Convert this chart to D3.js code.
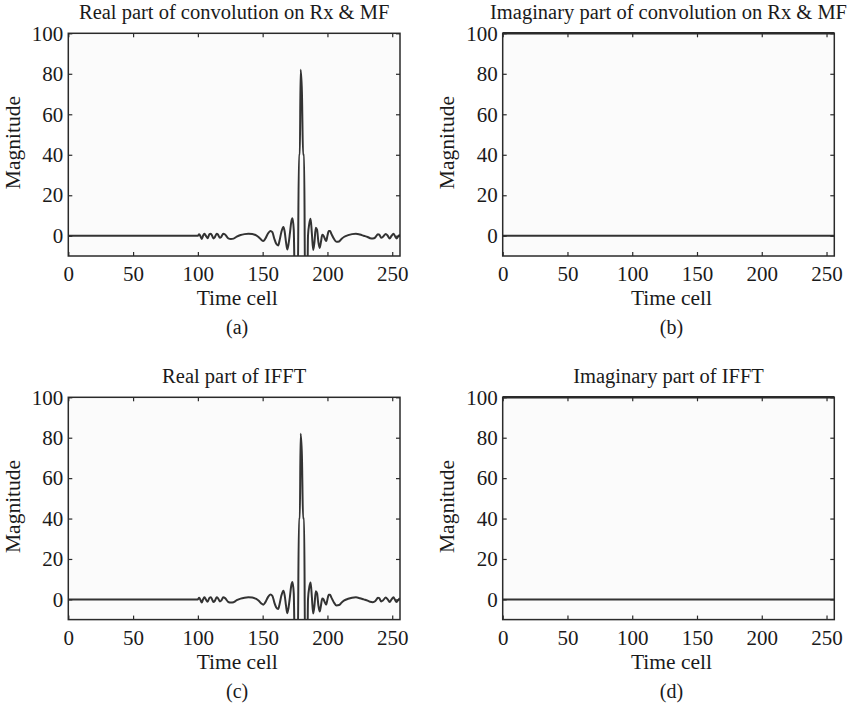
<!DOCTYPE html>
<html>
<head>
<meta charset="utf-8">
<script src="https://cdn.jsdelivr.net/npm/d3@7"></script>
<style>
  html, body { margin: 0; padding: 0; background: #ffffff; }
  svg { display: block; }
  text { font-family: "Liberation Serif", "DejaVu Serif", serif; fill: #1a1a1a; }
</style>
</head>
<body>
<svg id="chart" width="858" height="706"></svg>
<script>
// ---------------- data ----------------
const panelTitles = [
  "Real part of convolution on Rx & MF",
  "Imaginary part of convolution on Rx & MF",
  "Real part of IFFT",
  "Imaginary part of IFFT"
];
const panelLetters = ["(a)", "(b)", "(c)", "(d)"];
const xLabel = "Time cell";
const yLabel = "Magnitude";
const xTicks = [0, 50, 100, 150, 200, 250];
const yTicks = [0, 20, 40, 60, 80, 100];
const xDomain = [0, 256];
const yDomain = [-10, 100];

// real part: time cell and value
const realTime = [
  0, 100, 101, 102, 103, 104, 105, 106, 107.5, 109, 110, 111, 112, 113, 114.5, 115.5, 117, 118,
  119.6, 121, 123.5, 125.5, 127.5, 130, 133, 136, 139, 142, 145, 147, 149, 150.5, 152, 154, 156,
  157.5, 159, 160.5, 162, 163, 164.5, 166, 167, 168, 169, 170, 171, 172, 173, 174, 175, 176, 177,
  178, 178.7, 179.3, 180.3, 181.2, 182, 182.8, 183.6, 184.4, 185, 186, 187, 188, 189, 190, 191, 192, 193, 194, 195, 196,
  197, 198, 199, 200, 201, 202, 203, 205, 207, 209, 211, 213, 216, 219, 222, 225, 228, 231, 233,
  235, 237, 239, 240, 241.5, 243, 245, 246.5, 248, 249.5, 251, 252, 253.3, 255, 256
];
const realValue = [
  0, 0, 0.8, -0.3, -1.6, 0, 1, 0.2, -1.2, 0.8, 1, 0, -1.3, -0.8, 1, 0.6, -1, -0.6,
  1, 0.6, -1.3, -1.6, -1.4, -0.4, 0.4, 0.8, 1, 0.9, 0.2, -0.7, -2, -2.6, -1.5, 1, 2.4,
  1.8, -1.5, -4, -4.8, -2.5, 2, 4.3, 2, -3, -6.8, -4, 1, 6.5, 8.6, 3, -30, -14, -30,
  40, 40, 82, 71, 40, 40, -30, -14, -30, 0, 6, 8.4, 1, -7, -3, 4, 3, -3, -6, -3, 0.5,
  0, -1.5, -2.6, 0, 2.3, 2.3, 1, -1.5, -3, -2.8, -1.5, -0.5, 0.3, 0.8, 1, 0.6, 0, -0.6, -1.2,
  -1.4, -0.8, 0.8, 0.6, -1, -0.4, 0.9, 0, -1.3, 0, 1, 0, -1.3, 0, 0.5
];
// imaginary part: zero everywhere
const imagTime = [0, 256];
const imagValue = [0, 0];

const panelSeries = [
  {t: realTime, v: realValue},
  {t: imagTime, v: imagValue},
  {t: realTime, v: realValue},
  {t: imagTime, v: imagValue}
];

// ---------------- layout ----------------
const panels = [
  {left: 68.3, top: 33.3, width: 331.7, height: 222.7, boldTop: false},
  {left: 502.7, top: 33.3, width: 331.6, height: 222.7, boldTop: true},
  {left: 68.3, top: 397.3, width: 331.7, height: 222.3, boldTop: false},
  {left: 502.7, top: 397.3, width: 331.6, height: 222.3, boldTop: true}
];

const svg = d3.select("#chart");
const frameColor = "#2a2a2a";
const lineColor = "#333333";

panels.forEach((p, i) => {
  const g = svg.append("g").attr("transform", `translate(${p.left},${p.top})`);
  const x = d3.scaleLinear().domain(xDomain).range([0, p.width]);
  const y = d3.scaleLinear().domain(yDomain).range([p.height, 0]);

  g.append("rect").attr("width", p.width).attr("height", p.height)
    .attr("fill", "#fbfbfb");

  const clipId = "clip" + i;
  g.append("clipPath").attr("id", clipId)
    .append("rect").attr("width", p.width).attr("height", p.height);

  // data line
  const s = panelSeries[i];
  const pts = s.t.map((t, k) => [t, s.v[k]]);
  const line = d3.line().x(d => x(d[0])).y(d => y(d[1])).curve(d3.curveMonotoneX);
  g.append("path").datum(pts)
    .attr("clip-path", `url(#${clipId})`)
    .attr("d", line)
    .attr("fill", "none")
    .attr("stroke", lineColor)
    .attr("stroke-width", 2)
    .attr("stroke-linejoin", "round");

  // axes with inward ticks
  const styleAxis = sel => {
    sel.select(".domain").remove();
    sel.selectAll(".tick line").attr("stroke", frameColor).attr("stroke-width", 1.2);
    sel.selectAll(".tick text").attr("fill", "#1a1a1a")
      .style("font-family", '"Liberation Serif", serif').style("font-size", "21px");
  };
  g.append("g").attr("transform", `translate(0,${p.height})`)
    .call(d3.axisBottom(x).tickValues(xTicks).tickSize(-4).tickPadding(10))
    .call(styleAxis);
  g.append("g")
    .call(d3.axisLeft(y).tickValues(yTicks).tickSize(-4).tickPadding(5))
    .call(styleAxis);
  g.append("g")
    .call(d3.axisTop(x).tickValues(xTicks).tickSize(-4).tickFormat(""))
    .call(styleAxis);
  g.append("g").attr("transform", `translate(${p.width},0)`)
    .call(d3.axisRight(y).tickValues(yTicks).tickSize(-4).tickFormat(""))
    .call(styleAxis);

  // frame
  g.append("rect").attr("width", p.width).attr("height", p.height)
    .attr("fill", "none").attr("stroke", frameColor).attr("stroke-width", 1.5);
  if (p.boldTop) {
    g.append("line").attr("x1", 0).attr("x2", p.width).attr("y1", 0).attr("y2", 0)
      .attr("stroke", frameColor).attr("stroke-width", 2.5);
  }

  // title
  g.append("text").attr("x", p.width / 2).attr("y", -14)
    .attr("text-anchor", "middle").style("font-size", "20.5px")
    .text(panelTitles[i]);
  // x label
  g.append("text").attr("x", p.width / 2 + 3).attr("y", p.height + 49)
    .attr("text-anchor", "middle").style("font-size", "21.5px")
    .text(xLabel);
  // y label
  g.append("text")
    .attr("transform", `translate(${-48.5},${p.height / 2 - 2}) rotate(-90)`)
    .attr("text-anchor", "middle").style("font-size", "21.5px")
    .text(yLabel);
  // panel letter
  g.append("text").attr("x", p.width / 2 + 3).attr("y", p.height + 78)
    .attr("text-anchor", "middle").style("font-size", "20px")
    .text(panelLetters[i]);
});
</script>
</body>
</html>
